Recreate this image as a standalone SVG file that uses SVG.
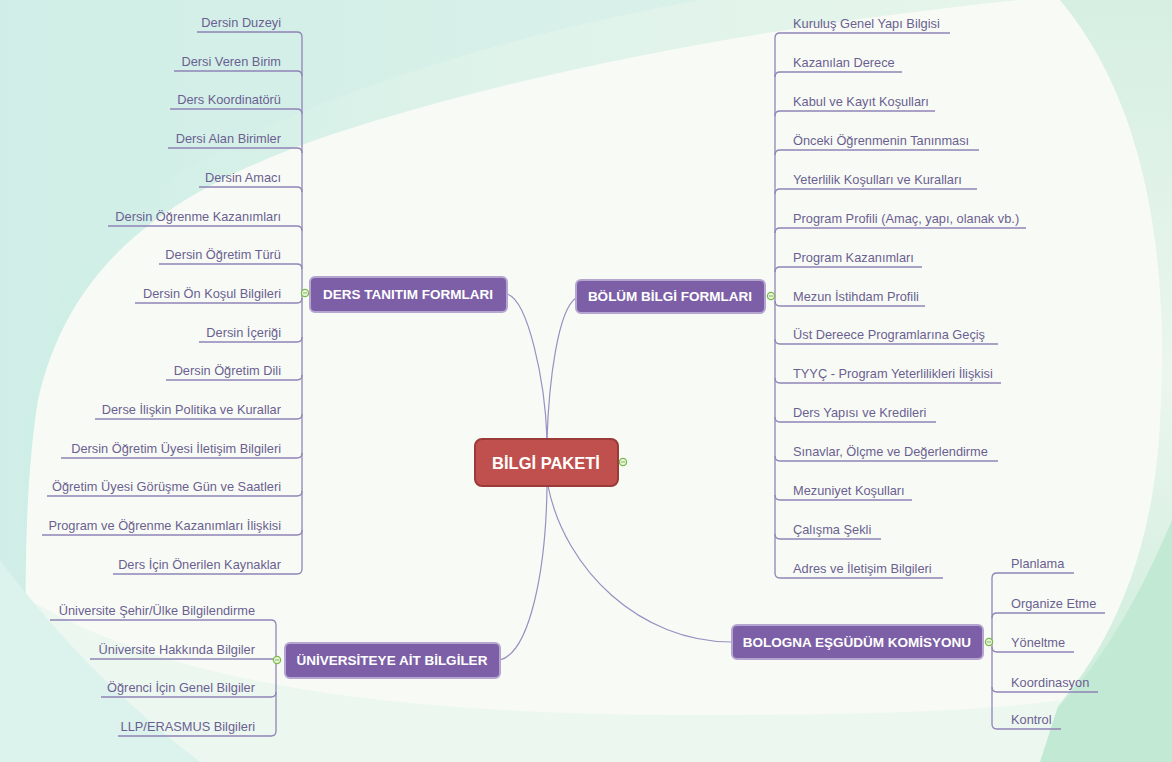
<svg xmlns="http://www.w3.org/2000/svg" width="1172" height="762" viewBox="0 0 1172 762">
<defs>
<linearGradient id="gTop" x1="0" y1="0" x2="1" y2="0">
<stop offset="0" stop-color="#cdeee6"/>
<stop offset="0.5" stop-color="#dff3ea"/>
<stop offset="1" stop-color="#e6f5ea"/>
</linearGradient>
<linearGradient id="gRight" x1="0" y1="0" x2="0" y2="1">
<stop offset="0" stop-color="#d6efe2"/>
<stop offset="0.5" stop-color="#ebf6ee"/>
<stop offset="1" stop-color="#c8ebd8"/>
</linearGradient>
<style>
.leaf{font-family:"Liberation Sans",Arial,sans-serif;font-size:12.8px;fill:#6b5f92}
.end{text-anchor:end}
.ln{fill:none;stroke:#9084b6;stroke-width:1.3}
.cn{fill:none;stroke:#9a8fc2;stroke-width:1.2}
.box{fill:#7c5fa6;stroke:#b4a6d0;stroke-width:2}
.root{fill:#c0504d;stroke:#9c3a38;stroke-width:2}
.nt{font-family:"Liberation Sans",Arial,sans-serif;font-weight:bold;font-size:13.5px;fill:#ffffff;text-anchor:middle}
.rt{font-family:"Liberation Sans",Arial,sans-serif;font-weight:bold;font-size:16.5px;fill:#ffffff;text-anchor:middle}
.col{fill:#eaf5de;stroke:#7cb94f;stroke-width:1.3}
.colm{stroke:#7cb94f;stroke-width:1}
</style>
</defs>

<g id="background">
<rect width="1172" height="762" fill="#f8fbf5"/>
<path d="M0,0 H1020 C820,20 560,60 330,135 C170,190 70,260 38,400 C22,500 24,640 30,762 H0 Z" fill="url(#gTop)"/>
<path d="M0,0 H700 C480,40 260,110 140,200 C70,260 40,330 25,420 L20,762 H0 Z" fill="#d2efe8" opacity="0.6"/>
<path d="M1172,0 V762 H1000 C1090,690 1145,590 1158,450 C1170,300 1160,120 1060,0 Z" fill="url(#gRight)"/>
<path d="M1172,520 V762 H1000 C1080,700 1130,620 1172,520 Z" fill="#c2e9d3"/>
<path d="M30,600 C180,690 420,715 700,715 C850,715 980,712 1060,700 L1040,762 H30 Z" fill="#ecf7f0"/>
<path d="M0,560 C60,640 120,700 200,762 H0 Z" fill="#dcf2ec"/>
</g>

<g id="connectors">
<path class="cn" d="M507,294 C528,300 545,380 547,439"/>
<path class="cn" d="M576,298 C558,310 549,380 547,439"/>
<path class="cn" d="M547,486 C546,570 530,652 500,660"/>
<path class="cn" d="M548,486 C565,570 640,642 732,642"/>

<path class="ln" d="M302,37 V569 M302,293 H305"/>
<path class="ln" d="M197,32 H297 Q302,32 302,37"/>
<path class="ln" d="M174,71 H297 Q302,71 302,76"/>
<path class="ln" d="M170,109 H297 Q302,109 302,114"/>
<path class="ln" d="M168,148 H297 Q302,148 302,153"/>
<path class="ln" d="M199,187 H297 Q302,187 302,192"/>
<path class="ln" d="M108,226 H297 Q302,226 302,231"/>
<path class="ln" d="M159,264 H297 Q302,264 302,269"/>
<path class="ln" d="M135,303 H297 Q302,303 302,298"/>
<path class="ln" d="M199,342 H297 Q302,342 302,337"/>
<path class="ln" d="M166,380 H297 Q302,380 302,375"/>
<path class="ln" d="M95,419 H297 Q302,419 302,414"/>
<path class="ln" d="M61,458 H297 Q302,458 302,453"/>
<path class="ln" d="M47,496 H297 Q302,496 302,491"/>
<path class="ln" d="M42,535 H297 Q302,535 302,530"/>
<path class="ln" d="M113,574 H297 Q302,574 302,569"/>

<path class="ln" d="M775,38 V573 M771,296 H775"/>
<path class="ln" d="M950,33 H780 Q775,33 775,38"/>
<path class="ln" d="M902,72 H780 Q775,72 775,77"/>
<path class="ln" d="M935,111 H780 Q775,111 775,116"/>
<path class="ln" d="M979,150 H780 Q775,150 775,155"/>
<path class="ln" d="M977,189 H780 Q775,189 775,194"/>
<path class="ln" d="M1026,228 H780 Q775,228 775,233"/>
<path class="ln" d="M922,267 H780 Q775,267 775,272"/>
<path class="ln" d="M925,306 H780 Q775,306 775,301"/>
<path class="ln" d="M998,344 H780 Q775,344 775,339"/>
<path class="ln" d="M1001,383 H780 Q775,383 775,378"/>
<path class="ln" d="M936,422 H780 Q775,422 775,417"/>
<path class="ln" d="M998,461 H780 Q775,461 775,456"/>
<path class="ln" d="M912,500 H780 Q775,500 775,495"/>
<path class="ln" d="M881,539 H780 Q775,539 775,534"/>
<path class="ln" d="M943,578 H780 Q775,578 775,573"/>

<path class="ln" d="M276,625 V731"/>
<path class="ln" d="M50,620 H271 Q276,620 276,625"/>
<path class="ln" d="M90,659 H277"/>
<path class="ln" d="M101,697 H271 Q276,697 276,692"/>
<path class="ln" d="M118,736 H271 Q276,736 276,731"/>

<path class="ln" d="M992,578 V724 M989,642 H992"/>
<path class="ln" d="M1074,573 H997 Q992,573 992,578"/>
<path class="ln" d="M1105,613 H997 Q992,613 992,618"/>
<path class="ln" d="M1074,652 H997 Q992,652 992,647"/>
<path class="ln" d="M1098,692 H997 Q992,692 992,687"/>
<path class="ln" d="M1061,729 H997 Q992,729 992,724"/>
</g>

<g id="node-bilgi-paketi">
<rect class="root" x="475" y="439" width="143" height="47" rx="7"/>
<text class="rt" x="546" y="469">BİLGİ PAKETİ</text>
<circle class="col" cx="623" cy="462" r="3.6"/><line class="colm" x1="621" y1="462" x2="625" y2="462"/>
</g>

<g id="node-ders-tanitim">
<rect class="box" x="310" y="277" width="197" height="35" rx="5"/>
<text class="nt" x="408" y="299">DERS TANITIM FORMLARI</text>
<circle class="col" cx="305" cy="293" r="3.6"/><line class="colm" x1="303" y1="293" x2="307" y2="293"/>
</g>

<g id="node-bolum-bilgi">
<rect class="box" x="576" y="280" width="189" height="33" rx="5"/>
<text class="nt" x="670" y="301">BÖLÜM BİLGİ FORMLARI</text>
<circle class="col" cx="771" cy="296" r="3.6"/><line class="colm" x1="769" y1="296" x2="773" y2="296"/>
</g>

<g id="node-universite">
<rect class="box" x="285" y="643" width="215" height="35" rx="5"/>
<text class="nt" x="392" y="665">ÜNİVERSİTEYE AİT BİLGİLER</text>
<circle class="col" cx="277" cy="660" r="3.6"/><line class="colm" x1="275" y1="660" x2="279" y2="660"/>
</g>

<g id="node-bologna">
<rect class="box" x="732" y="625" width="251" height="34" rx="5"/>
<text class="nt" x="857" y="647">BOLOGNA EŞGÜDÜM KOMİSYONU</text>
<circle class="col" cx="989" cy="642" r="3.6"/><line class="colm" x1="987" y1="642" x2="991" y2="642"/>
</g>

<g id="leaves-ders">
<text class="leaf end" x="281" y="27">Dersin Duzeyi</text>
<text class="leaf end" x="281" y="66">Dersi Veren Birim</text>
<text class="leaf end" x="281" y="104">Ders Koordinatörü</text>
<text class="leaf end" x="281" y="143">Dersi Alan Birimler</text>
<text class="leaf end" x="281" y="182">Dersin Amacı</text>
<text class="leaf end" x="281" y="221">Dersin Öğrenme Kazanımları</text>
<text class="leaf end" x="281" y="259">Dersin Öğretim Türü</text>
<text class="leaf end" x="281" y="298">Dersin Ön Koşul Bilgileri</text>
<text class="leaf end" x="281" y="337">Dersin İçeriği</text>
<text class="leaf end" x="281" y="375">Dersin Öğretim Dili</text>
<text class="leaf end" x="281" y="414">Derse İlişkin Politika ve Kurallar</text>
<text class="leaf end" x="281" y="453">Dersin Öğretim Üyesi İletişim Bilgileri</text>
<text class="leaf end" x="281" y="491">Öğretim Üyesi Görüşme Gün ve Saatleri</text>
<text class="leaf end" x="281" y="530">Program ve Öğrenme Kazanımları İlişkisi</text>
<text class="leaf end" x="281" y="569">Ders İçin Önerilen Kaynaklar</text>
</g>

<g id="leaves-bolum">
<text class="leaf" x="793" y="28">Kuruluş Genel Yapı Bilgisi</text>
<text class="leaf" x="793" y="67">Kazanılan Derece</text>
<text class="leaf" x="793" y="106">Kabul ve Kayıt Koşulları</text>
<text class="leaf" x="793" y="145">Önceki Öğrenmenin Tanınması</text>
<text class="leaf" x="793" y="184">Yeterlilik Koşulları ve Kuralları</text>
<text class="leaf" x="793" y="223">Program Profili (Amaç, yapı, olanak vb.)</text>
<text class="leaf" x="793" y="262">Program Kazanımları</text>
<text class="leaf" x="793" y="301">Mezun İstihdam Profili</text>
<text class="leaf" x="793" y="339">Üst Dereece Programlarına Geçiş</text>
<text class="leaf" x="793" y="378">TYYÇ - Program Yeterlilikleri İlişkisi</text>
<text class="leaf" x="793" y="417">Ders Yapısı ve Kredileri</text>
<text class="leaf" x="793" y="456">Sınavlar, Ölçme ve Değerlendirme</text>
<text class="leaf" x="793" y="495">Mezuniyet Koşulları</text>
<text class="leaf" x="793" y="534">Çalışma Şekli</text>
<text class="leaf" x="793" y="573">Adres ve İletişim Bilgileri</text>
</g>

<g id="leaves-universite">
<text class="leaf end" x="255" y="615">Üniversite Şehir/Ülke Bilgilendirme</text>
<text class="leaf end" x="255" y="654">Üniversite Hakkında Bilgiler</text>
<text class="leaf end" x="255" y="692">Öğrenci İçin Genel Bilgiler</text>
<text class="leaf end" x="255" y="731">LLP/ERASMUS Bilgileri</text>
</g>

<g id="leaves-bologna">
<text class="leaf" x="1011" y="568">Planlama</text>
<text class="leaf" x="1011" y="608">Organize Etme</text>
<text class="leaf" x="1011" y="647">Yöneltme</text>
<text class="leaf" x="1011" y="687">Koordinasyon</text>
<text class="leaf" x="1011" y="724">Kontrol</text>
</g>
</svg>
